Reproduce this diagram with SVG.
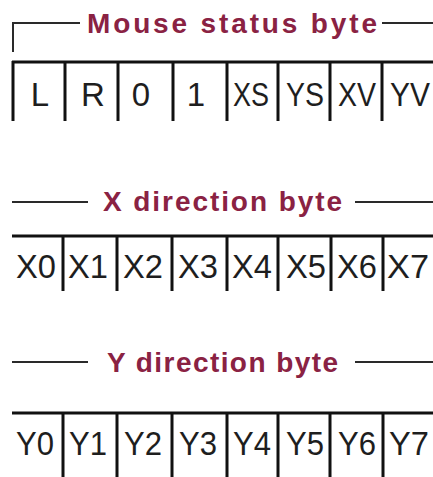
<svg xmlns="http://www.w3.org/2000/svg" width="433" height="477" viewBox="0 0 433 477">
  <style>
    .title { font-family: "Liberation Sans", Arial, sans-serif; font-weight: bold; font-size: 28px; fill: #8a2243; }
    .bit { font-family: "Liberation Sans", Arial, sans-serif; font-size: 33px; fill: #1e1e1e; text-anchor: middle; }
    .rule { stroke: #2a2a2a; stroke-width: 2; fill: none; }
    .grid { stroke: #111; stroke-width: 3; fill: none; }
  </style>
  <rect width="433" height="477" fill="#ffffff"/>

  <!-- Mouse status byte -->
  <g id="status-byte">
    <path class="rule" d="M13,52 V23 H80 M382,23 H433"/>
    <text class="title" x="87" y="33" textLength="290" lengthAdjust="spacing">Mouse status byte</text>
    <path class="grid" d="M12,62 H433 M13,61 V121 M65,61 V121 M118,61 V121 M173,61 V121 M227,61 V121 M278,61 V121 M330,61 V121 M382,61 V121"/>
    <text class="bit" x="40" y="106">L</text>
    <text class="bit" x="93" y="106">R</text>
    <text class="bit" x="141" y="106">0</text>
    <text class="bit" x="196" y="106">1</text>
    <text class="bit" x="251" y="106" textLength="36" lengthAdjust="spacingAndGlyphs">XS</text>
    <text class="bit" x="305" y="106" textLength="38" lengthAdjust="spacingAndGlyphs">YS</text>
    <text class="bit" x="357" y="106" textLength="38" lengthAdjust="spacingAndGlyphs">XV</text>
    <text class="bit" x="410" y="106" textLength="40" lengthAdjust="spacingAndGlyphs">YV</text>
  </g>

  <!-- X direction byte -->
  <g id="x-byte">
    <path class="rule" d="M12,202 H88 M355,202 H433"/>
    <text class="title" x="103" y="211" textLength="239" lengthAdjust="spacing">X direction byte</text>
    <path class="grid" d="M12,236 H433 M63,235 V291 M117,235 V291 M172,235 V291 M227,235 V291 M278,235 V291 M331,235 V291 M383,235 V291"/>
    <text class="bit" x="36" y="278" textLength="40" lengthAdjust="spacingAndGlyphs">X0</text>
    <text class="bit" x="88" y="278" textLength="40" lengthAdjust="spacingAndGlyphs">X1</text>
    <text class="bit" x="143" y="278" textLength="40" lengthAdjust="spacingAndGlyphs">X2</text>
    <text class="bit" x="198" y="278" textLength="40" lengthAdjust="spacingAndGlyphs">X3</text>
    <text class="bit" x="252" y="278" textLength="40" lengthAdjust="spacingAndGlyphs">X4</text>
    <text class="bit" x="306" y="278" textLength="40" lengthAdjust="spacingAndGlyphs">X5</text>
    <text class="bit" x="357" y="278" textLength="40" lengthAdjust="spacingAndGlyphs">X6</text>
    <text class="bit" x="408" y="278" textLength="42" lengthAdjust="spacingAndGlyphs">X7</text>
  </g>

  <!-- Y direction byte -->
  <g id="y-byte">
    <path class="rule" d="M12,362 H88 M355,362 H433"/>
    <text class="title" x="107" y="372" textLength="231" lengthAdjust="spacing">Y direction byte</text>
    <path class="grid" d="M12,413 H433 M63,412 V477 M117,412 V477 M172,412 V477 M227,412 V477 M278,412 V477 M330,412 V477 M383,412 V477"/>
    <text class="bit" x="35" y="455" textLength="38" lengthAdjust="spacingAndGlyphs">Y0</text>
    <text class="bit" x="88" y="455" textLength="38" lengthAdjust="spacingAndGlyphs">Y1</text>
    <text class="bit" x="143" y="455" textLength="38" lengthAdjust="spacingAndGlyphs">Y2</text>
    <text class="bit" x="198" y="455" textLength="38" lengthAdjust="spacingAndGlyphs">Y3</text>
    <text class="bit" x="252" y="455" textLength="38" lengthAdjust="spacingAndGlyphs">Y4</text>
    <text class="bit" x="305" y="455" textLength="38" lengthAdjust="spacingAndGlyphs">Y5</text>
    <text class="bit" x="357" y="455" textLength="38" lengthAdjust="spacingAndGlyphs">Y6</text>
    <text class="bit" x="409" y="455" textLength="40" lengthAdjust="spacingAndGlyphs">Y7</text>
  </g>
</svg>
